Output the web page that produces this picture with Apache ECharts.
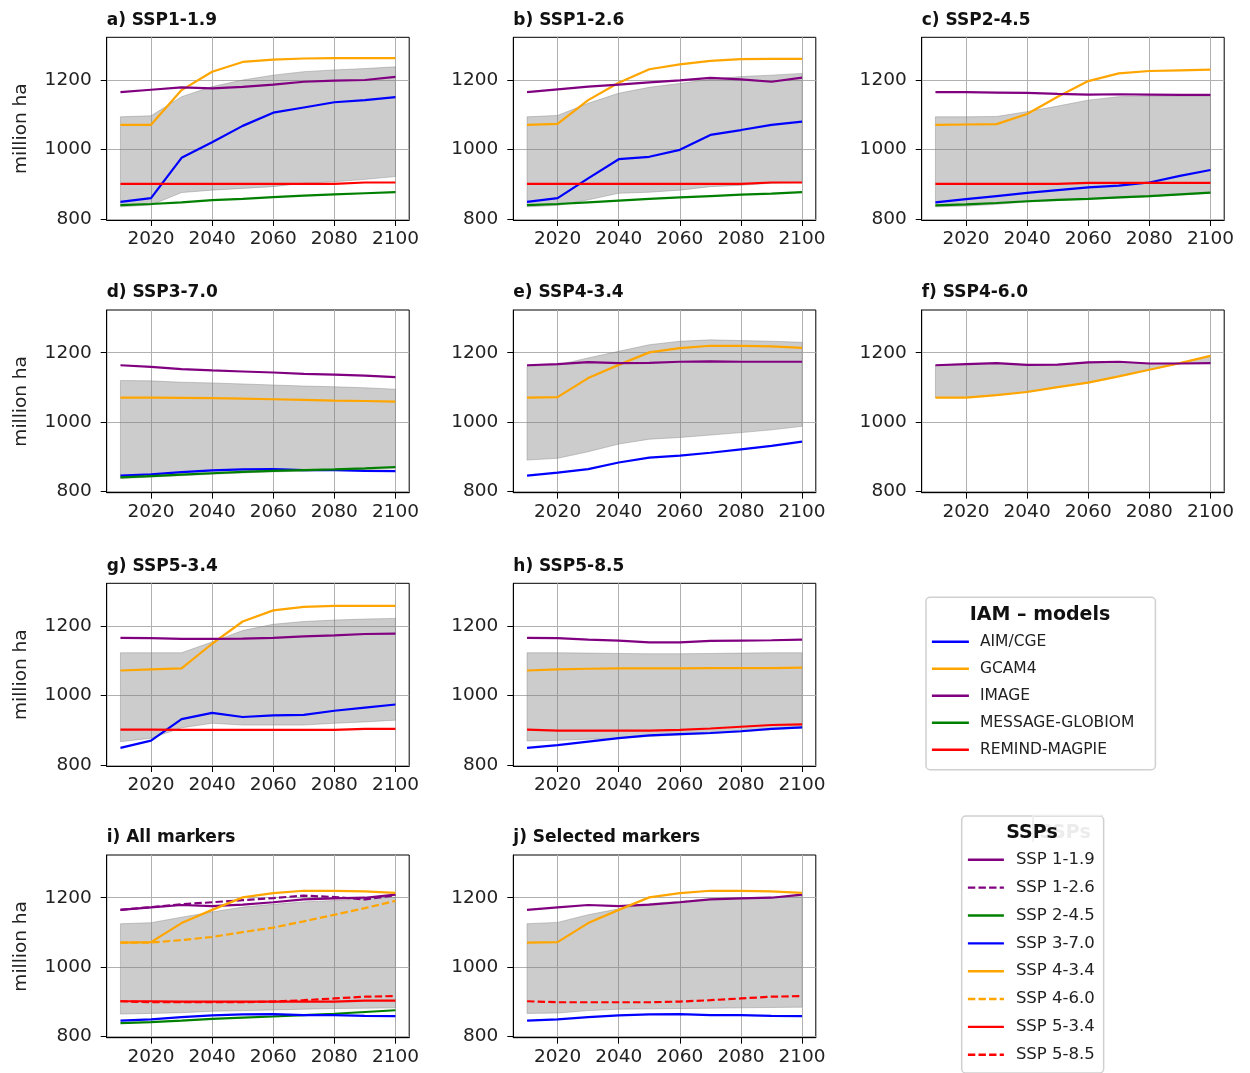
<!DOCTYPE html>
<html><head><meta charset="utf-8">
<script src="https://cdn.jsdelivr.net/npm/echarts@6/dist/echarts.min.js"></script>
<style>html,body{margin:0;padding:0;background:#fff}#c{width:1250px;height:1073px}</style>
</head><body><div id="c"></div>
<script>
const years = [2010,2020,2030,2040,2050,2060,2070,2080,2090,2100];
const xTicks = [2020,2040,2060,2080,2100];
const yTicks = [800,1000,1200];
const modelNames = ['AIM/CGE','GCAM4','IMAGE','MESSAGE-GLOBIOM','REMIND-MAGPIE'];
const sspNames = ['SSP 1-1.9','SSP 1-2.6','SSP 2-4.5','SSP 3-7.0','SSP 4-3.4','SSP 4-6.0','SSP 5-3.4','SSP 5-8.5'];
const panelTitles = ['a) SSP1-1.9','b) SSP1-2.6','c) SSP2-4.5','d) SSP3-7.0','e) SSP4-3.4','f) SSP4-6.0','g) SSP5-3.4','h) SSP5-8.5','i) All markers','j) Selected markers'];

// a) SSP1-1.9
const a_AIM = [849,860,976,1021,1068,1106,1121,1136,1142,1151];
const a_GCAM = [1071,1071,1171,1224,1252,1259,1262,1263,1263,1263];
const a_IMAGE = [1165,1172,1179,1176,1180,1187,1195,1198,1200,1209];
const a_MESSAGE = [840,843,848,854,858,863,867,871,874,877];
const a_REMIND = [901,901,901,901,901,901,901,901,905,905];
const a_bandHi = [1094,1097,1152,1181,1200,1214,1224,1229,1233,1238];
const a_bandLo = [835,840,876,883,888,893,903,907,914,922];
// b) SSP1-2.6
const b_AIM = [849,860,917,972,979,999,1042,1056,1071,1080];
const b_GCAM = [1071,1074,1142,1192,1231,1245,1255,1260,1261,1261];
const b_IMAGE = [1165,1173,1181,1187,1193,1199,1206,1202,1195,1207];
const b_MESSAGE = [840,843,848,853,858,862,866,870,873,877];
const b_REMIND = [901,901,901,901,901,901,901,901,905,905];
const b_bandHi = [1094,1098,1133,1162,1179,1190,1202,1210,1214,1219];
const b_bandLo = [835,839,855,874,877,883,893,897,903,905];
// c) SSP2-4.5
const c_AIM = [848,857,866,875,883,891,896,905,924,941];
const c_GCAM = [1071,1072,1073,1102,1152,1197,1219,1226,1228,1230];
const c_IMAGE = [1165,1165,1164,1163,1160,1158,1159,1158,1157,1157];
const c_MESSAGE = [839,842,846,851,855,858,862,866,871,876];
const c_REMIND = [901,901,901,901,901,904,904,904,904,904];
const c_bandHi = [1094,1094,1095,1109,1125,1142,1152,1154,1154,1154];
const c_bandLo = [835,837,842,849,853,857,860,864,869,874];
// d) SSP3-7.0
const d_AIM = [846,850,856,861,864,865,862,862,860,859];
const d_GCAM = [1071,1071,1070,1069,1068,1066,1064,1062,1061,1059];
const d_IMAGE = [1164,1159,1153,1149,1146,1143,1139,1137,1134,1130];
const d_MESSAGE = [841,845,849,853,857,860,862,864,867,871];
const d_bandHi = [1120,1119,1115,1113,1110,1107,1104,1102,1099,1095];
const d_bandLo = [838,842,846,850,854,857,859,861,863,866];
// e) SSP4-3.4
const e_AIM = [846,855,865,884,898,904,912,922,932,944];
const e_GCAM = [1071,1072,1127,1165,1201,1213,1220,1220,1218,1214];
const e_IMAGE = [1164,1167,1173,1170,1171,1174,1175,1174,1174,1174];
const e_bandHi = [1161,1165,1185,1204,1223,1233,1237,1235,1233,1230];
const e_bandLo = [891,896,915,937,951,956,963,970,978,988];
// f) SSP4-6.0
const f_GCAM = [1071,1071,1078,1087,1101,1114,1132,1151,1170,1191];
const f_IMAGE = [1164,1167,1170,1165,1166,1172,1174,1169,1169,1170];
const f_bandHi = [1164,1167,1170,1165,1166,1172,1174,1169,1170,1191];
const f_bandLo = [1071,1071,1078,1087,1101,1114,1132,1151,1169,1170];
// g) SSP5-3.4
const g_AIM = [849,870,932,950,938,943,944,956,965,974];
const g_GCAM = [1072,1075,1078,1149,1213,1245,1255,1258,1258,1258];
const g_IMAGE = [1166,1165,1163,1163,1164,1166,1170,1173,1177,1178];
const g_REMIND = [902,902,901,901,901,901,901,901,904,904];
const g_bandHi = [1123,1123,1123,1154,1187,1205,1213,1217,1220,1222];
const g_bandLo = [867,877,907,920,915,915,915,920,924,929];
// h) SSP5-8.5
const h_AIM = [849,857,867,877,885,889,892,897,904,908];
const h_GCAM = [1072,1075,1077,1078,1078,1078,1079,1079,1079,1080];
const h_IMAGE = [1166,1165,1161,1158,1153,1153,1157,1158,1159,1161];
const h_REMIND = [902,899,899,899,899,901,905,910,915,917];
const h_bandHi = [1123,1123,1122,1121,1120,1120,1121,1122,1123,1123];
const h_bandLo = [869,871,874,877,882,886,890,895,902,906];
// i) All markers / j) Selected markers
const i_bandHi = [1125,1128,1144,1159,1173,1181,1188,1192,1197,1202];
const i_bandLo = [865,867,869,873,875,877,879,881,882,883];
const j_bandHi = [1125,1129,1151,1168,1183,1190,1197,1200,1202,1207];
const j_bandLo = [867,868,875,879,880,881,882,883,884,885];
const markerSeries = [a_IMAGE, b_IMAGE, c_MESSAGE, d_AIM, e_GCAM, f_GCAM, g_REMIND, h_REMIND];
const selectedMarkers = [0, 3, 4, 7];

// ---- styles / layout ----
const FONT = 'DejaVu Sans';
const modelColor = {'AIM/CGE':'#0000ff','GCAM4':'#ffa500','IMAGE':'#800080','MESSAGE-GLOBIOM':'#008000','REMIND-MAGPIE':'#ff0000'};
const sspColor = ['#800080','#800080','#008000','#0000ff','#ffa500','#ffa500','#ff0000','#ff0000'];
const sspDashed = [false,true,false,false,false,true,false,true];
const DASH = [7.4, 3.2];
const LW = 2.2;
const colLeft = [106.7, 513.3, 921.7];
const rowTop = [37.3, 310, 583.3, 855];
const GW = 302.5, GH = 182.7;

const panels = [
  {row:0,col:0,band:[a_bandLo,a_bandHi],lines:[['AIM/CGE',a_AIM],['GCAM4',a_GCAM],['IMAGE',a_IMAGE],['MESSAGE-GLOBIOM',a_MESSAGE],['REMIND-MAGPIE',a_REMIND]]},
  {row:0,col:1,band:[b_bandLo,b_bandHi],lines:[['AIM/CGE',b_AIM],['GCAM4',b_GCAM],['IMAGE',b_IMAGE],['MESSAGE-GLOBIOM',b_MESSAGE],['REMIND-MAGPIE',b_REMIND]]},
  {row:0,col:2,band:[c_bandLo,c_bandHi],lines:[['AIM/CGE',c_AIM],['GCAM4',c_GCAM],['IMAGE',c_IMAGE],['MESSAGE-GLOBIOM',c_MESSAGE],['REMIND-MAGPIE',c_REMIND]]},
  {row:1,col:0,band:[d_bandLo,d_bandHi],lines:[['AIM/CGE',d_AIM],['GCAM4',d_GCAM],['IMAGE',d_IMAGE],['MESSAGE-GLOBIOM',d_MESSAGE]]},
  {row:1,col:1,band:[e_bandLo,e_bandHi],lines:[['AIM/CGE',e_AIM],['GCAM4',e_GCAM],['IMAGE',e_IMAGE]]},
  {row:1,col:2,band:[f_bandLo,f_bandHi],lines:[['GCAM4',f_GCAM],['IMAGE',f_IMAGE]]},
  {row:2,col:0,band:[g_bandLo,g_bandHi],lines:[['AIM/CGE',g_AIM],['GCAM4',g_GCAM],['IMAGE',g_IMAGE],['REMIND-MAGPIE',g_REMIND]]},
  {row:2,col:1,band:[h_bandLo,h_bandHi],lines:[['AIM/CGE',h_AIM],['GCAM4',h_GCAM],['IMAGE',h_IMAGE],['REMIND-MAGPIE',h_REMIND]]},
  {row:3,col:0,band:[i_bandLo,i_bandHi],ssp:[0,1,2,3,4,5,6,7]},
  {row:3,col:1,band:[j_bandLo,j_bandHi],ssp:selectedMarkers}
];

const plain = v => String(v);
const grid=[], xAxis=[], yAxis=[], series=[], title=[];
const BAND = 'rgba(128,128,128,0.4)';
panels.forEach((p,k)=>{
  const L = colLeft[p.col], T = rowTop[p.row];
  grid.push({left:L, top:T, width:GW, height:GH, show:true, borderColor:'#000', borderWidth:1, backgroundColor:'transparent', containLabel:false});
  title.push({text:panelTitles[k], left:L, top:T-25.5, padding:0,
    textStyle:{fontFamily:FONT, fontWeight:'bold', fontSize:17, color:'#111', lineHeight:17}});
  xAxis.push({type:'value', gridIndex:k, min:2005.5, max:2104.5,
    axisLine:{show:true, onZero:false, lineStyle:{color:'#000', width:1}},
    axisTick:{show:true, length:6, customValues:xTicks, lineStyle:{color:'#000', width:1}},
    axisLabel:{customValues:xTicks, formatter:plain, fontFamily:FONT, fontSize:18.5, color:'#222', margin:10},
    splitLine:{show:true, lineStyle:{color:'#b0b0b0', width:1}}});
  const ya = {type:'value', gridIndex:k, min:797, max:1323,
    axisLine:{show:true, onZero:false, lineStyle:{color:'#000', width:1}},
    axisTick:{show:true, length:6, customValues:yTicks, lineStyle:{color:'#000', width:1}},
    axisLabel:{customValues:yTicks, formatter:plain, fontFamily:FONT, fontSize:18.5, color:'#222', margin:15},
    splitLine:{show:true, lineStyle:{color:'#b0b0b0', width:1}}};
  if (p.col === 0) {
    ya.name = 'million ha'; ya.nameLocation = 'middle'; ya.nameGap = 76;
    ya.nameTextStyle = {fontFamily:FONT, fontSize:18.5, color:'#222'};
  }
  yAxis.push(ya);
  const rows = years.map((y,i)=>[y, p.band[0][i], p.band[1][i]]);
  series.push({type:'custom', name:'band'+k, xAxisIndex:k, yAxisIndex:k, data:rows, silent:true,
    encode:{x:0, y:[1,2]}, clip:true,
    renderItem:function(params, api){
      if (params.dataIndex !== 0) return null;
      const top = rows.map(r=>api.coord([r[0], r[2]]));
      const bot = rows.map(r=>api.coord([r[0], r[1]])).reverse();
      return {type:'polygon', shape:{points:top.concat(bot)}, style:{fill:BAND, stroke:BAND, lineWidth:1}};
    }});
  const mk = (name, vals, color, dashed)=>({type:'line', name:name, xAxisIndex:k, yAxisIndex:k,
    data:years.map((y,i)=>[y, vals[i]]), symbol:'none', showSymbol:false, silent:true, color:color,
    itemStyle:{color:color}, lineStyle:{color:color, width:LW, type: dashed ? DASH : 'solid'}});
  if (p.lines) p.lines.forEach(l=>series.push(mk(l[0], l[1], modelColor[l[0]], false)));
  if (p.ssp) p.ssp.forEach(s=>series.push(mk(sspNames[s], markerSeries[s], sspColor[s], sspDashed[s])));
});

const option = {
  animation:false, backgroundColor:'#fff',
  grid, xAxis, yAxis, series, title,
  legend:[
    {data:modelNames, orient:'vertical', left:926, top:597.3, padding:[36.4,21,12,4.7],
     itemWidth:37, itemHeight:14, itemGap:11, selectedMode:false,
     itemStyle:{opacity:0}, lineStyle:{width:2.4},
     borderColor:'#d0d0d0', borderWidth:1.5, borderRadius:4, backgroundColor:'#fff',
     textStyle:{fontFamily:FONT, fontSize:15.5, color:'#222', lineHeight:16, padding:[0,0,0,6]}},
    {data:sspNames, orient:'vertical', left:961.7, top:816, padding:[35.3,8.9,9.7,5],
     itemWidth:36, itemHeight:14, itemGap:10.85, selectedMode:false,
     itemStyle:{opacity:0}, lineStyle:{width:2.4},
     borderColor:'#d0d0d0', borderWidth:1.5, borderRadius:4, backgroundColor:'#fff',
     textStyle:{fontFamily:FONT, fontSize:16.5, color:'#222', lineHeight:16, padding:[0,0,0,7]}}
  ],
  graphic:[
    {type:'polyline', z:100, shape:{points:[[1033,842],[1033,815.5],[1103,815.5]]}, style:{stroke:'#ececec', lineWidth:1.5, fill:null}},
    {type:'text', z:101, style:{x:1065, y:832.7, text:'SSPs', font:'bold 19px "DejaVu Sans"', fill:'#ececec', align:'center', verticalAlign:'middle', textAlign:'center', textVerticalAlign:'middle'}},
    {type:'text', z:102, style:{x:1040, y:615, text:'IAM \u2013 models', font:'bold 19px "DejaVu Sans"', fill:'#111', align:'center', verticalAlign:'middle', textAlign:'center', textVerticalAlign:'middle'}},
    {type:'text', z:102, style:{x:1032, y:832.7, text:'SSPs', font:'bold 19px "DejaVu Sans"', fill:'#111', align:'center', verticalAlign:'middle', textAlign:'center', textVerticalAlign:'middle'}}
  ]
};
const chart = echarts.init(document.getElementById('c'), null, {renderer:'canvas'});
chart.setOption(option);
</script></body></html>
